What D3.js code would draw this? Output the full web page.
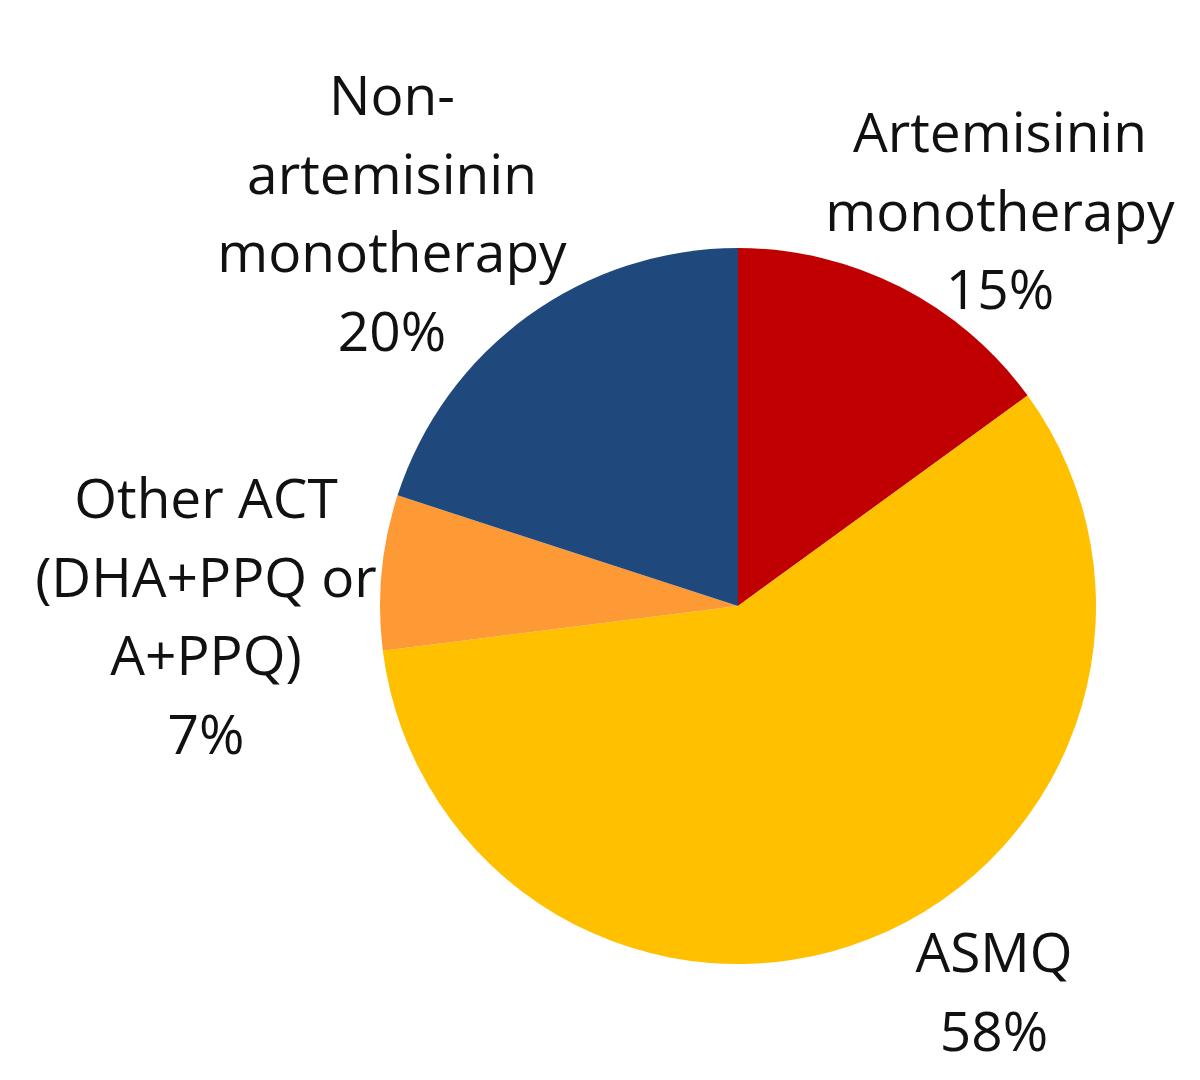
<!DOCTYPE html>
<html>
<head>
<meta charset="utf-8">
<script src="https://cdn.jsdelivr.net/npm/d3@7"></script>
<style>
	body { margin: 0; background: #fff; }
	svg text { font-family: "Open Sans", "DejaVu Sans", sans-serif; fill: #111; }
</style>
</head>
<body>
<div id="pie"><svg width="1200" height="1080"></svg></div>
<script>

// Chart data, clockwise from 12 o'clock
let categories = ['Artemisinin monotherapy', 'ASMQ', 'Other ACT (DHA+PPQ or A+PPQ)', 'Non-artemisinin monotherapy'];
let values = [15, 58, 7, 20];
let labelLines = [
	['Artemisinin', 'monotherapy'],
	['ASMQ'],
	['Other ACT', '(DHA+PPQ or', 'A+PPQ)'],
	['Non-', 'artemisinin', 'monotherapy']
];
let colors = ['#C00000', '#FFC000', '#FD9A35', '#1F497D'];

// layout: where each label block sits (center x, first baseline y)
let labelAnchors = [[1000, 152], [994, 972], [206, 518], [392, 115]];
let lineHeight = 78.5;

let cx = 738, cy = 606, radius = 358;

let svg = d3.select('#pie svg');

let pie = d3.pie().sort(null).value(function(d) { return d.value; });
let arc = d3.arc().innerRadius(0).outerRadius(radius);

let dataset = categories.map(function(c, i) {
	return { name: c, value: values[i], lines: labelLines[i], color: colors[i] };
});

let g = svg.append('g').attr('transform', 'translate(' + cx + ',' + cy + ')');

g.selectAll('path')
	.data(pie(dataset))
	.enter().append('path')
	.attr('d', arc)
	.attr('fill', function(d) { return d.data.color; });

// Labels
let labels = svg.selectAll('text.label')
	.data(dataset)
	.enter().append('text')
	.attr('class', 'label')
	.attr('text-anchor', 'middle')
	.attr('font-size', '55px');

labels.each(function(d, i) {
	let t = d3.select(this);
	let lines = d.lines.concat([d.value + '%']);
	lines.forEach(function(line, j) {
		t.append('tspan')
			.attr('x', labelAnchors[i][0])
			.attr('y', labelAnchors[i][1] + j * lineHeight)
			.text(line);
	});
});

</script>
</body>
</html>
